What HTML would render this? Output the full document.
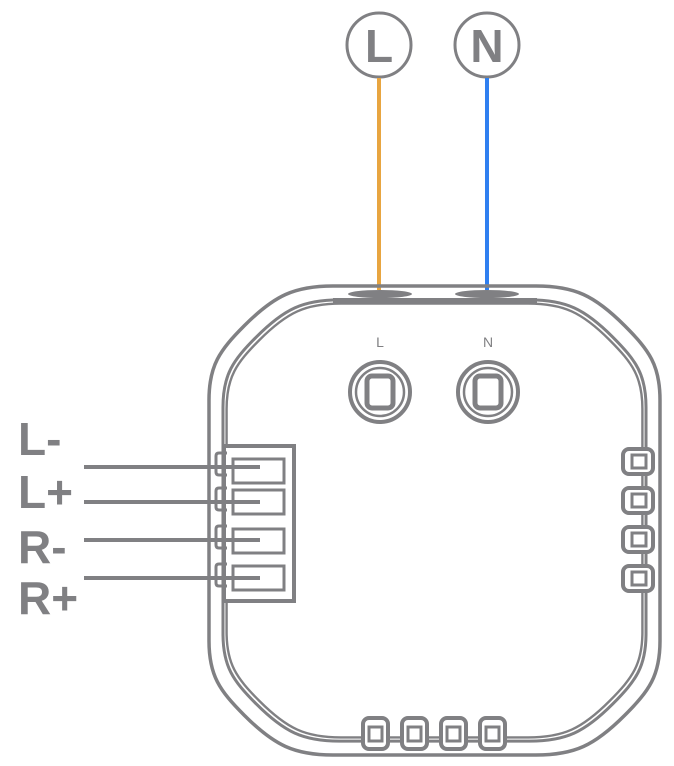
<!DOCTYPE html>
<html><head><meta charset="utf-8"><style>
html,body{margin:0;padding:0;background:#fff;}
svg{display:block;}
text{font-family:"Liberation Sans",sans-serif;fill:#808083;}
</style></head><body>
<svg width="674" height="766" viewBox="0 0 674 766" xmlns="http://www.w3.org/2000/svg">
<defs>
<path id="body" d="M-101.5,-234.5 H101.5 C140,-234.5 160,-225 190,-195 C215,-170 225.5,-155 225.5,-120.5 V120.5 C225.5,155 215,170 190,195 C160,225 140,234.5 101.5,234.5 H-101.5 C-140,234.5 -160,225 -190,195 C-215,170 -225.5,155 -225.5,120.5 V-120.5 C-225.5,-155 -215,-170 -190,-195 C-160,-225 -140,-234.5 -101.5,-234.5 Z"/>
</defs>
<g fill="none" stroke="#808083">
<circle cx="379" cy="45" r="32" stroke-width="3"/>
<circle cx="487" cy="45" r="32" stroke-width="3"/>
</g>
<text x="379" y="62" font-size="46" font-weight="bold" text-anchor="middle">L</text>
<text x="487" y="62" font-size="46" font-weight="bold" text-anchor="middle">N</text>
<line x1="379" y1="78" x2="379" y2="290" stroke="#e8a540" stroke-width="4"/>
<line x1="487" y1="78" x2="487" y2="290" stroke="#2f7ff0" stroke-width="4"/>

<g fill="none" stroke="#808083">
<use href="#body" transform="translate(434.5,520.5)" stroke-width="3.5"/>
<use href="#body" transform="translate(434.5,520.5) scale(0.938,0.941)" stroke-width="3.2" vector-effect="non-scaling-stroke"/>
<use href="#body" transform="translate(434.5,520.5) scale(0.922,0.925)" stroke-width="2.6" vector-effect="non-scaling-stroke"/>
</g>
<rect x="333" y="298" width="204" height="6" fill="#808083"/>
<ellipse cx="380" cy="294" rx="32" ry="4" fill="#808083"/>
<ellipse cx="487" cy="294" rx="32" ry="4" fill="#808083"/>

<text x="380" y="347" font-size="14" text-anchor="middle">L</text>
<text x="488" y="347" font-size="14" text-anchor="middle">N</text>
<g fill="none" stroke="#808083">
<circle cx="380" cy="392" r="30" stroke-width="4"/>
<circle cx="380" cy="392" r="24" stroke-width="2.5"/>
<rect x="367" y="376" width="26" height="32" rx="5" stroke-width="5"/>
<circle cx="488" cy="392" r="30" stroke-width="4"/>
<circle cx="488" cy="392" r="24" stroke-width="2.5"/>
<rect x="475" y="376" width="26" height="32" rx="5" stroke-width="5"/>
</g>

<rect x="224" y="446" width="70" height="155" fill="#fff" stroke="#808083" stroke-width="4"/>
<g fill="none" stroke="#808083" stroke-width="3">
<rect x="233" y="459" width="51" height="24"/>
<rect x="233" y="490" width="51" height="24"/>
<rect x="233" y="529" width="51" height="24"/>
<rect x="233" y="566" width="51" height="24"/>
<path d="M227,453 h-8 q-3,0 -3,3 v16 q0,3 3,3 h8"/>
<path d="M227,488 h-8 q-3,0 -3,3 v16 q0,3 3,3 h8"/>
<path d="M227,526 h-8 q-3,0 -3,3 v16 q0,3 3,3 h8"/>
<path d="M227,564 h-8 q-3,0 -3,3 v16 q0,3 3,3 h8"/>
</g>
<g stroke="#808083" stroke-width="4">
<line x1="84" y1="467" x2="260" y2="467"/>
<line x1="84" y1="502" x2="260" y2="502"/>
<line x1="84" y1="540" x2="260" y2="540"/>
<line x1="84" y1="578" x2="260" y2="578"/>
</g>
<g font-size="46" font-weight="bold">
<text x="18" y="455">L-</text>
<text x="18" y="508">L+</text>
<text x="18" y="563">R-</text>
<text x="18" y="614">R+</text>
</g>

<g fill="#fff" stroke="#808083">
<rect x="623" y="449" width="30" height="25" rx="6" stroke-width="4"/>
<rect x="623" y="488" width="30" height="25" rx="6" stroke-width="4"/>
<rect x="623" y="527" width="30" height="25" rx="6" stroke-width="4"/>
<rect x="623" y="566" width="30" height="25" rx="6" stroke-width="4"/>
<rect x="632" y="455" width="14" height="13" stroke-width="3"/>
<rect x="632" y="494" width="14" height="13" stroke-width="3"/>
<rect x="632" y="533" width="14" height="13" stroke-width="3"/>
<rect x="632" y="572" width="14" height="13" stroke-width="3"/>
</g>
<g fill="#fff" stroke="#808083">
<rect x="363" y="718" width="25" height="31" rx="6" stroke-width="4"/>
<rect x="402" y="718" width="25" height="31" rx="6" stroke-width="4"/>
<rect x="441" y="718" width="25" height="31" rx="6" stroke-width="4"/>
<rect x="480" y="718" width="25" height="31" rx="6" stroke-width="4"/>
<rect x="369" y="727" width="13" height="14" stroke-width="3"/>
<rect x="408" y="727" width="13" height="14" stroke-width="3"/>
<rect x="447" y="727" width="13" height="14" stroke-width="3"/>
<rect x="486" y="727" width="13" height="14" stroke-width="3"/>
</g>
</svg>
</body></html>
